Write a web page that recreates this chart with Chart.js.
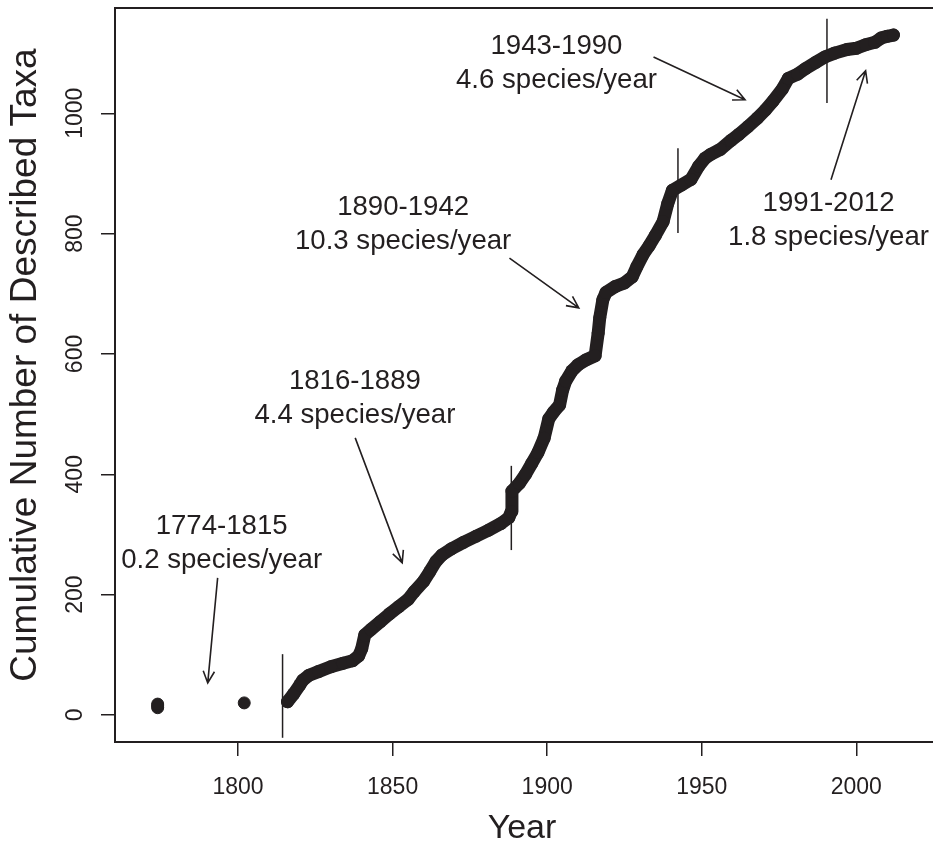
<!DOCTYPE html>
<html>
<head>
<meta charset="utf-8">
<script src="https://cdn.jsdelivr.net/npm/chart.js@4"></script>
<style>
  html, body { margin: 0; padding: 0; background: #fff; overflow: hidden; }
  #wrap { width: 933px; height: 844px; overflow: hidden; }
  canvas { display: block; }
</style>
</head>
<body>
<div id="wrap"><canvas id="chart" width="940" height="844"></canvas></div>
<script>
// early isolated records (before the continuous run)
const earlyYears = [1774, 1774, 1774, 1802];
const earlyCounts = [12, 15, 18, 20];

// cumulative described taxa
const curveYears = [1816, 1818, 1820, 1821, 1823, 1826, 1830, 1834, 1837, 1839, 1840, 1841, 1843, 1846, 1849,
  1852, 1855, 1857, 1860, 1862, 1864, 1866, 1869, 1873, 1877, 1881, 1885, 1887.6, 1888.4, 1888.6,
  1891, 1893, 1895, 1897, 1899, 1900.5, 1902, 1904, 1905, 1906, 1908, 1910, 1912.5, 1915.5, 1916.5,
  1917, 1918, 1919, 1922, 1925, 1927.5, 1929, 1931, 1933, 1935, 1937.5, 1939, 1940.5, 1943.5, 1946.5,
  1949, 1951, 1953, 1956, 1959.5, 1962, 1965, 1968, 1970.5, 1973, 1976, 1978, 1981, 1983.5, 1987,
  1990, 1993, 1997, 2000, 2003, 2006, 2008, 2010, 2012];
const curveCounts = [22, 35, 50, 58, 66, 72, 80, 86, 90, 98, 110, 133, 142, 155, 168,
  180, 192, 205, 222, 238, 255, 266, 276, 287, 297, 307, 318, 328, 338, 372,
  385, 400, 418, 436, 460, 492, 503, 515, 540, 555, 572, 582, 590, 597, 635,
  660, 690, 702, 712, 718, 728, 745, 765, 780, 797, 820, 850, 872, 881, 890,
  912, 925, 932, 940, 955, 965, 978, 992, 1005, 1020, 1040, 1058, 1065, 1074, 1085,
  1094, 1100, 1106, 1108, 1114, 1118, 1125, 1128, 1130];

// period boundaries (vertical marks)
const breakYears = [1814.4, 1888.4, 1942.3, 1990.5];
const breakLow = [-38, 274, 801, 1017];
const breakHigh = [101, 414, 942, 1157];

const xTicks = [1800, 1850, 1900, 1950, 2000];
const yTicks = [0, 200, 400, 600, 800, 1000];

// annotations: text lines, anchor (year, count) of first line, arrow start/end
const noteLines = [
  ['1774-1815', '0.2 species/year'],
  ['1816-1889', '4.4 species/year'],
  ['1890-1942', '10.3 species/year'],
  ['1943-1990', '4.6 species/year'],
  ['1991-2012', '1.8 species/year']
];
const noteYears = [1794.7, 1837.8, 1853.4, 1903, 1991];
const noteCounts = [317.5, 558.6, 847.9, 1115.5, 853.7];
const arrowFromYears = [1793.4, 1837.9, 1887.8, 1934.4, 1991.8];
const arrowFromCounts = [227.8, 460.5, 759.3, 1093.4, 889.4];
const arrowToYears = [1790.2, 1853.1, 1910.2, 1964.0, 2003.0];
const arrowToCounts = [53.2, 252.7, 676.6, 1022.4, 1070.7];

const ink = '#231f20';
const fontFamily = '"Liberation Sans", Arial, Helvetica, sans-serif';

const datasets = [
  {
    label: 'taxa',
    data: curveYears.map((yr, i) => ({ x: yr, y: curveCounts[i] })),
    borderColor: ink,
    backgroundColor: ink,
    borderWidth: 13,
    borderJoinStyle: 'round',
    borderCapStyle: 'round',
    pointRadius: 6.5,
    pointBorderWidth: 0,
    showLine: true,
    tension: 0
  },
  {
    label: 'early',
    data: earlyYears.map((yr, i) => ({ x: yr, y: earlyCounts[i] })),
    backgroundColor: ink,
    borderColor: ink,
    pointRadius: 6,
    showLine: false
  }
];
breakYears.forEach((yr, i) => {
  datasets.push({
    label: 'break' + i,
    data: [{ x: yr, y: breakLow[i] }, { x: yr, y: breakHigh[i] }],
    borderColor: ink,
    borderWidth: 1.5,
    pointRadius: 0,
    showLine: true
  });
});

const overlay = {
  id: 'overlay',
  afterDraw(chart) {
    const { ctx, chartArea: a } = chart;
    const xs = chart.scales.x, ys = chart.scales.y;
    ctx.save();
    ctx.strokeStyle = ink;
    ctx.fillStyle = ink;

    // top of the box
    ctx.lineWidth = 2;
    ctx.beginPath();
    ctx.moveTo(a.left, a.top);
    ctx.lineTo(a.right, a.top);
    ctx.stroke();

    // tick labels
    ctx.font = '23px ' + fontFamily;
    ctx.textAlign = 'center';
    ctx.textBaseline = 'alphabetic';
    xTicks.forEach(v => ctx.fillText(String(v), xs.getPixelForValue(v), a.bottom + 52));
    yTicks.forEach(v => {
      ctx.save();
      ctx.translate(a.left - 33, ys.getPixelForValue(v));
      ctx.rotate(-Math.PI / 2);
      ctx.fillText(String(v), 0, 0);
      ctx.restore();
    });

    // axis titles
    ctx.font = '34px ' + fontFamily;
    ctx.fillText('Year', (a.left + a.right) / 2 - 2, a.bottom + 96);
    ctx.font = '37px ' + fontFamily;
    ctx.save();
    ctx.translate(a.left - 79, (a.top + a.bottom) / 2 - 10);
    ctx.rotate(-Math.PI / 2);
    ctx.fillText('Cumulative Number of Described Taxa', 0, 0);
    ctx.restore();

    // notes
    ctx.font = '27.6px ' + fontFamily;
    noteLines.forEach((lines, i) => {
      const px = xs.getPixelForValue(noteYears[i]);
      const py = ys.getPixelForValue(noteCounts[i]);
      lines.forEach((t, j) => ctx.fillText(t, px, py + 10 + j * 34));
    });

    // arrows
    ctx.lineWidth = 1.6;
    arrowFromYears.forEach((yr, i) => {
      const x0 = xs.getPixelForValue(yr), y0 = ys.getPixelForValue(arrowFromCounts[i]);
      const x1 = xs.getPixelForValue(arrowToYears[i]), y1 = ys.getPixelForValue(arrowToCounts[i]);
      const ang = Math.atan2(y1 - y0, x1 - x0);
      const len = 13, spread = Math.PI / 7;
      ctx.beginPath();
      ctx.moveTo(x0, y0);
      ctx.lineTo(x1, y1);
      ctx.moveTo(x1 - len * Math.cos(ang - spread), y1 - len * Math.sin(ang - spread));
      ctx.lineTo(x1, y1);
      ctx.lineTo(x1 - len * Math.cos(ang + spread), y1 - len * Math.sin(ang + spread));
      ctx.stroke();
    });
    ctx.restore();
  }
};

new Chart(document.getElementById('chart'), {
  type: 'scatter',
  data: { datasets: datasets },
  options: {
    responsive: false,
    animation: false,
    layout: { padding: { top: 8, right: 5, left: 0, bottom: 0 } },
    plugins: { legend: { display: false }, tooltip: { enabled: false } },
    scales: {
      x: {
        type: 'linear',
        min: 1760.2,
        max: 2024.8,
        afterBuildTicks: s => { s.ticks = xTicks.map(v => ({ value: v })); },
        afterFit: s => { s.height = 102; },
        ticks: { display: false },
        grid: { drawOnChartArea: false, drawTicks: true, tickLength: 14, color: ink, lineWidth: 1.5 },
        border: { display: true, color: ink, width: 2 }
      },
      y: {
        type: 'linear',
        min: -45,
        max: 1175,
        afterBuildTicks: s => { s.ticks = yTicks.map(v => ({ value: v })); },
        afterFit: s => { s.width = 115; },
        ticks: { display: false },
        grid: { drawOnChartArea: false, drawTicks: true, tickLength: 14, color: ink, lineWidth: 1.5 },
        border: { display: true, color: ink, width: 2 }
      }
    }
  },
  plugins: [overlay]
});
</script>
</body>
</html>
